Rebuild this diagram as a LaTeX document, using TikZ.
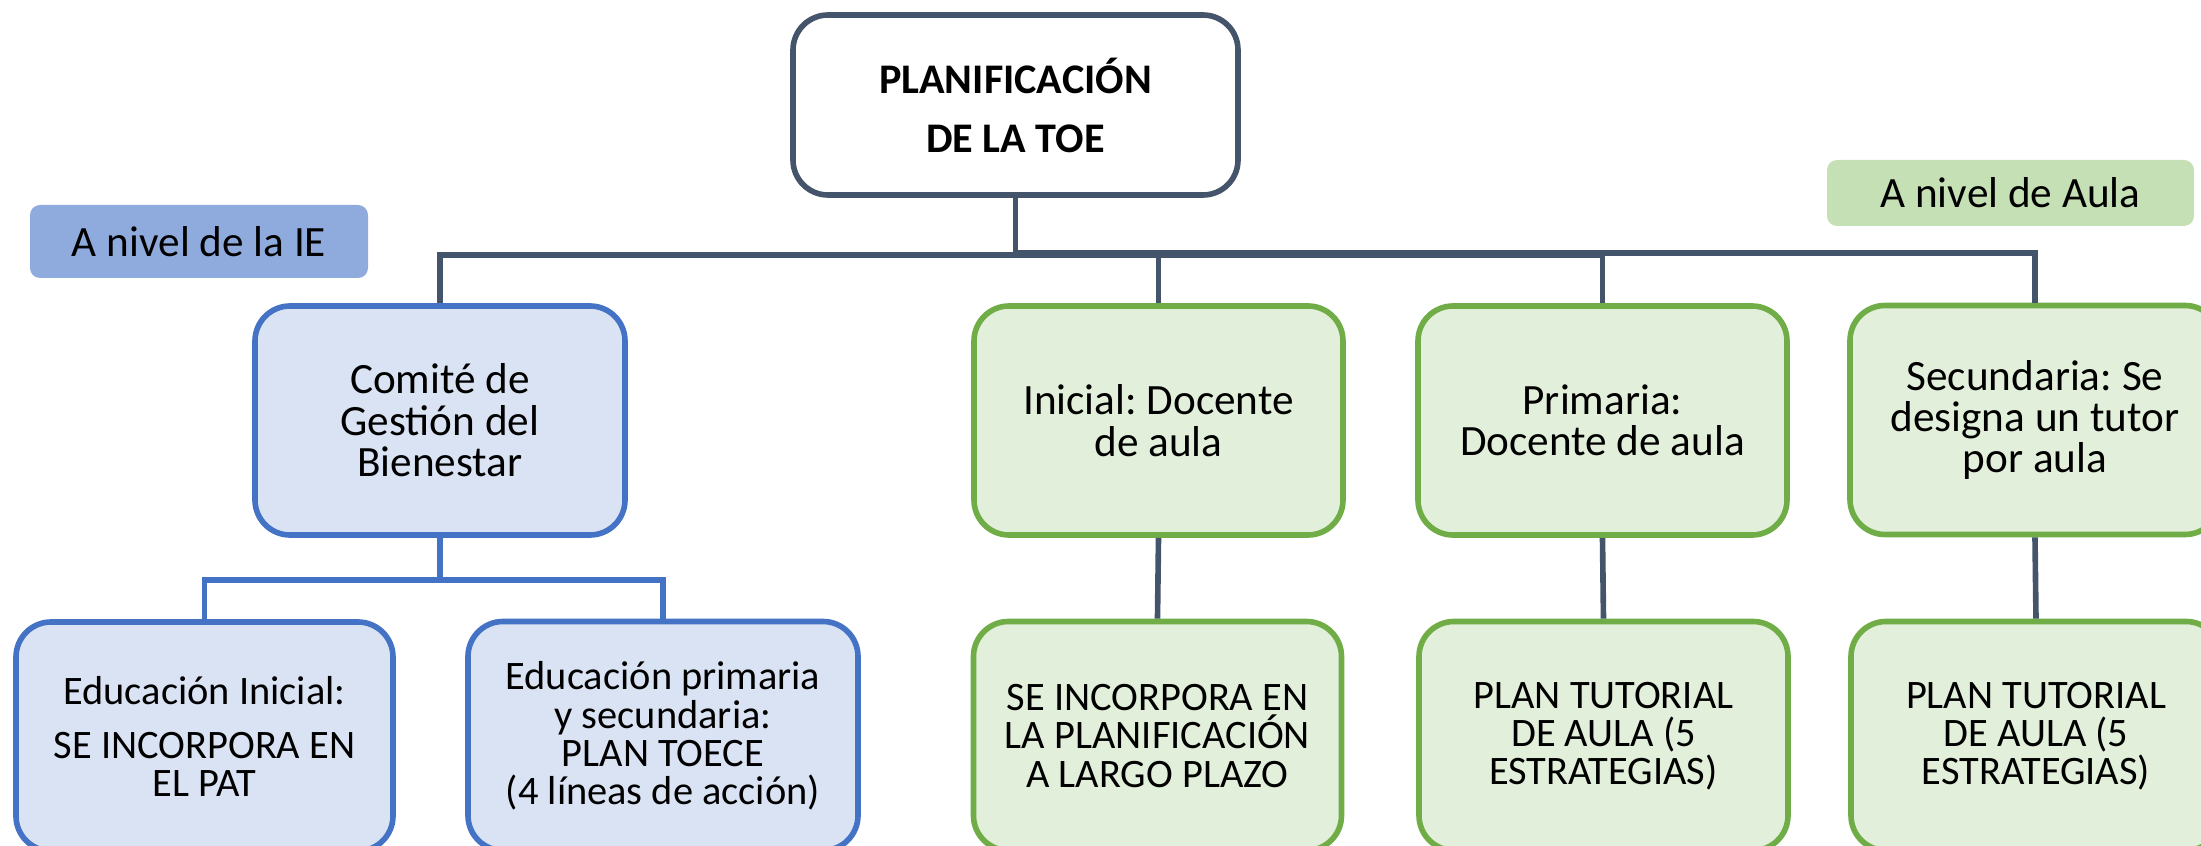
\documentclass[tikz,border=0pt]{standalone}
\usepackage{fontspec}
\setmainfont{Carlito}
\frenchspacing
\definecolor{lineslate}{HTML}{44546A}
\definecolor{ieblue}{HTML}{4472C4}
\definecolor{ielight}{HTML}{DAE3F3}
\definecolor{ietag}{HTML}{8FAADC}
\definecolor{aulagreen}{HTML}{70AD47}
\definecolor{aulalight}{HTML}{E2EFDA}
\definecolor{aulatag}{HTML}{C5E0B4}
\begin{document}
\begin{tikzpicture}
    \tikzset {
        unit box/.style = {draw, rounded corners=0.35cm, line width=1.6pt, minimum height=2.29cm,
            minimum width=#1, inner sep=0pt, align=center, font=\fontsize{12.3}{11.8}\selectfont},
        ie box/.style = {unit box=#1, draw=ieblue, fill=ielight},
        aula box/.style = {unit box=#1, draw=aulagreen, fill=aulalight},
        plan box/.style = {font=\fontsize{11.5}{10.9}\selectfont},
        level tag/.style = {rounded corners=0.1cm, inner sep=0pt, align=center, font=\fontsize{12.3}{12}\selectfont},
        link/.style = {draw=lineslate, line width=1.6pt},
        ie link/.style = {draw=ieblue, line width=1.6pt}
    }
    \clip (0,0) rectangle (22.01,-8.46);
    \useasboundingbox (0,0) rectangle (22.01,-8.46);

    \node[unit box=4.45cm, minimum height=1.8cm, draw=lineslate, fill=white, font=\bfseries\fontsize{12}{16.8}\selectfont]
        (toe) at (10.155,-1.05) {PLANIFICACIÓN\\DE LA TOE};

    \node[level tag, fill=ietag, minimum width=3.38cm, minimum height=0.73cm] (nivelie) at (1.99,-2.415) {A nivel de la IE};
    \node[level tag, fill=aulatag, minimum width=3.67cm, minimum height=0.66cm] (nivelaula) at (20.105,-1.93) {A nivel de Aula};

    \node[ie box=3.70cm] (comite) at (4.40,-4.205) {Comité de\\Gestión del\\Bienestar};
    \node[aula box=3.69cm] (inicial) at (11.585,-4.205) {Inicial: Docente\\de aula};
    \node[aula box=3.69cm] (primaria) at (16.025,-4.205) {Primaria:\\Docente de aula};
    \node[aula box=3.70cm] (secundaria) at (20.35,-4.20) {Secundaria: Se\\designa un tutor\\por aula};

    \node[ie box=3.77cm, plan box] (edinicial) at (2.045,-7.365) {Educación Inicial:\\[0.15cm]SE INCORPORA EN\\EL PAT};
    \node[ie box=3.90cm, plan box] (edprimaria) at (6.63,-7.36) {Educación primaria\\y secundaria:\\PLAN TOECE\\(4 líneas de acción)};
    \node[aula box=3.68cm, plan box] (incorpora) at (11.575,-7.36) {SE INCORPORA EN\\LA PLANIFICACIÓN\\A LARGO PLAZO};
    \node[aula box=3.69cm, plan box] (plprimaria) at (16.035,-7.36) {PLAN TUTORIAL\\DE AULA (5\\ESTRATEGIAS)};
    \node[aula box=3.70cm, plan box] (plsecundaria) at (20.36,-7.36) {PLAN TUTORIAL\\DE AULA (5\\ESTRATEGIAS)};

    \draw[link] (toe.south) -- ++(0,-0.575) -| (comite.north);
    \draw[link] (toe.south) -- ++(0,-0.575) -| (inicial.north);
    \draw[link] (toe.south) -- ++(0,-0.575) -| (primaria.north);
    \draw[link] (toe.south) -- ++(0,-0.55) -| (secundaria.north);

    \draw[ie link] (comite.south) -- ++(0,-0.42) -| (edinicial.north);
    \draw[ie link] (comite.south) -- ++(0,-0.42) -| (edprimaria.north);

    \draw[link] (inicial.south) -- (incorpora.north);
    \draw[link] (primaria.south) -- (plprimaria.north);
    \draw[link] (secundaria.south) -- (plsecundaria.north);
\end{tikzpicture}
\end{document}
